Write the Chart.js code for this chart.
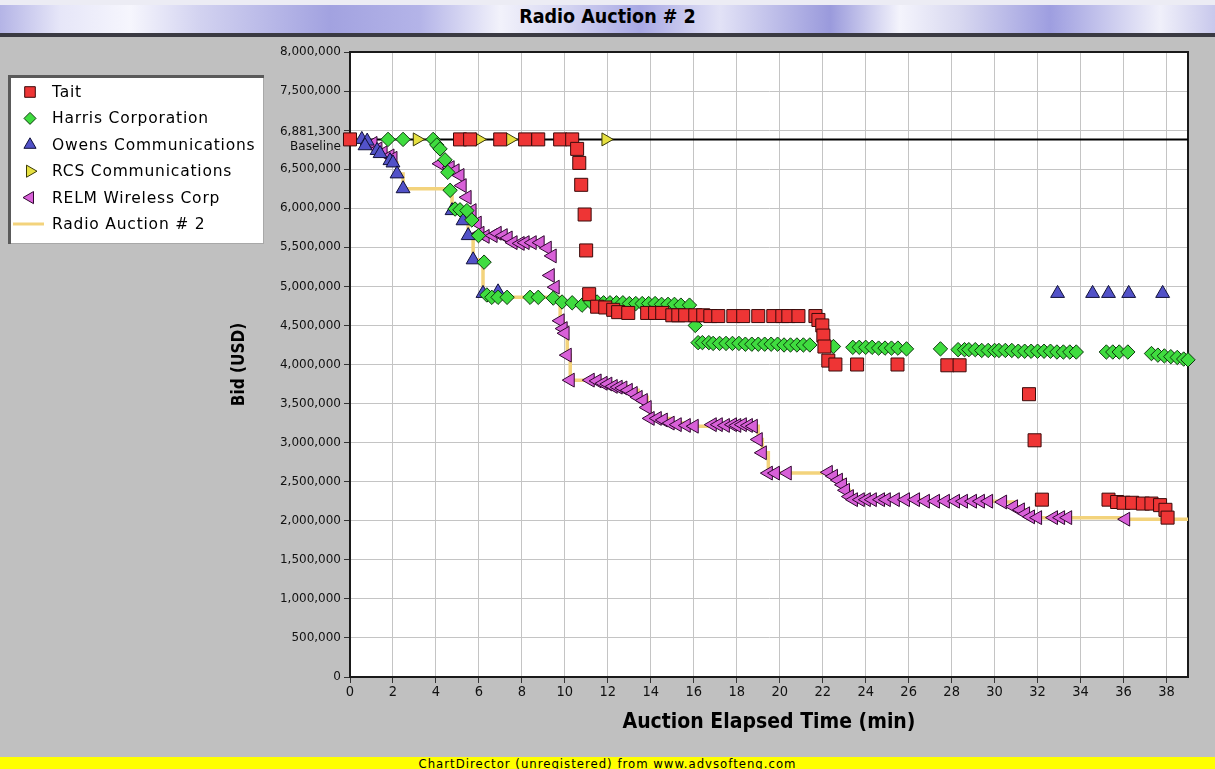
<!DOCTYPE html>
<html>
<head>
<meta charset="utf-8">
<script src="https://cdn.jsdelivr.net/npm/chart.js@4.4.1/dist/chart.umd.min.js"></script>
<style>
  html, body { margin: 0; padding: 0; }
  body { width: 1215px; height: 769px; background: #c0c0c0; position: relative; overflow: hidden; font-family: "DejaVu Sans", sans-serif; }
  #edge { position: absolute; left: 0; top: 0; width: 1215px; height: 5px; background: #ececf4; }
  #wrap { position: absolute; left: 0; top: 0; width: 1215px; height: 757px; }
  #titlebar {
    position: absolute; left: 0; top: 5px; width: 1215px; height: 28px;
    border-bottom: 4px solid #3a3a42;
    background: linear-gradient(90deg, #b4b4e6 0px, #e6e6f8 60px, #f6f6fd 130px, #d2d2f0 200px, #a2a2e0 330px,
      #b4b4e8 420px, #f2f2fb 500px, #d8d8f2 560px, #a8a8e4 640px, #e2e2f6 720px, #9a9adc 830px,
      #f4f4fc 900px, #d8d8f0 960px, #9e9ee0 1050px, #f0f0fa 1160px, #c8c8ec 1215px);
    text-align: center; line-height: 29px;
    font: bold 19.5px "DejaVu Sans Condensed", "DejaVu Sans", sans-serif; color: #000;
  }
  #footer {
    position: absolute; left: 0; top: 757px; width: 1215px; height: 12px; background: #ffff00; overflow: hidden;
    font: 13px "DejaVu Sans Condensed", "DejaVu Sans", sans-serif; letter-spacing: 1px;
    line-height: 13px; text-align: center; color: #000;
  }
</style>
</head>
<body>
<div id="edge"></div>
<div id="wrap"><canvas id="chart" width="1215" height="757"></canvas></div>
<div id="titlebar">Radio Auction # 2</div>
<div id="footer">ChartDirector (unregistered) from www.advsofteng.com</div>
<script>
// auction data (minutes, USD)
const BASELINE = 6881300;
const timeMin = 0;
const timeMax = 39;
const timeTicks = [0, 2, 4, 6, 8, 10, 12, 14, 16, 18, 20, 22, 24, 26, 28, 30, 32, 34, 36, 38];
const bidTicks = [0, 500000, 1000000, 1500000, 2000000, 2500000, 3000000, 3500000, 4000000,
  4500000, 5000000, 5500000, 6000000, 6500000, BASELINE, 7000000, 7500000, 8000000];
const hiddenBidLabels = [7000000];

const taitTime = [0, 5.12, 5.59, 6.99, 8.15, 8.76, 9.78, 10.34, 10.57, 10.67, 10.76, 10.92, 10.99, 11.13,
  11.5, 11.88, 12.25, 12.48, 12.95, 13.83, 14.2, 14.53, 15.0, 15.28, 15.6, 16.07, 16.44, 16.77, 17.14,
  17.84, 18.3, 19.0, 19.7, 20.12, 20.4, 20.87, 21.66, 21.8, 21.98, 22.03, 22.08, 22.26, 22.59, 23.6,
  25.48, 27.8, 28.37, 31.6, 31.86, 32.2, 35.3, 35.7, 36.0, 36.4, 36.9, 37.3, 37.7, 37.95, 38.05];
const taitBid = [BASELINE, BASELINE, BASELINE, BASELINE, BASELINE, BASELINE, BASELINE, BASELINE,
  6760000, 6580000, 6300000, 5920000, 5460000, 4900000,
  4740000, 4730000, 4700000, 4670000, 4660000, 4660000, 4660000, 4660000, 4630000, 4630000, 4630000,
  4630000, 4630000, 4620000, 4620000, 4620000, 4620000, 4620000, 4620000, 4620000, 4620000, 4620000,
  4620000, 4570000, 4500000, 4370000, 4230000, 4050000, 4000000, 4000000, 4000000, 3990000, 3990000,
  3620000, 3030000, 2270000, 2270000, 2240000, 2230000, 2230000, 2220000, 2220000, 2200000, 2140000, 2040000];

const harrisTime = [1.77, 2.47, 3.87, 4.04, 4.19, 4.42, 4.55, 4.66, 4.89, 5.12, 5.44, 5.67, 5.98, 6.24,
  6.37, 6.6, 6.89, 7.31, 8.38, 8.76, 9.46, 9.87, 10.34, 10.8, 11.2, 11.5, 11.8, 12.1, 12.4, 12.7, 13.0,
  13.3, 13.6, 13.9, 14.2, 14.5, 14.8, 15.1, 15.4, 15.8, 16.07, 16.2, 16.4, 16.7, 16.9, 17.2, 17.5, 17.8,
  18.1, 18.4, 18.7, 19.0, 19.3, 19.6, 19.9, 20.2, 20.5, 20.8, 21.1, 21.4, 22.5, 23.4, 23.7, 24.0, 24.3,
  24.6, 24.9, 25.2, 25.5, 25.9, 27.48, 28.3, 28.6, 28.8, 29.1, 29.4, 29.7, 30.0, 30.2, 30.5, 30.8, 31.1,
  31.4, 31.7, 32.0, 32.3, 32.6, 32.9, 33.2, 33.5, 33.8, 35.2, 35.5, 35.8, 36.2, 37.3, 37.6, 37.9, 38.2,
  38.5, 38.8, 39.0];
const harrisBid = [BASELINE, BASELINE, BASELINE, 6810000, 6760000, 6620000, 6460000, 6230000, 5990000,
  5980000, 5970000, 5850000, 5650000, 5310000, 4890000, 4860000, 4860000, 4860000, 4860000, 4860000,
  4850000, 4800000, 4790000, 4760000, 4800000, 4800000, 4790000, 4790000, 4790000, 4790000, 4780000,
  4780000, 4780000, 4780000, 4780000, 4770000, 4770000, 4770000, 4760000, 4760000, 4500000, 4280000,
  4280000, 4280000, 4270000, 4270000, 4270000, 4270000, 4270000, 4260000, 4260000, 4260000, 4260000,
  4260000, 4260000, 4250000, 4250000, 4250000, 4250000, 4250000, 4230000, 4220000, 4220000, 4220000,
  4220000, 4210000, 4210000, 4210000, 4210000, 4200000, 4200000, 4190000, 4190000, 4190000, 4190000,
  4180000, 4180000, 4180000, 4180000, 4180000, 4180000, 4170000, 4170000, 4170000, 4170000, 4170000,
  4170000, 4160000, 4160000, 4160000, 4160000, 4160000, 4160000, 4160000, 4160000, 4140000, 4120000,
  4110000, 4100000, 4090000, 4070000, 4060000];

const owensTime = [0.55, 0.8, 0.7, 1.26, 1.4, 1.86, 2.0, 2.19, 2.47, 4.75, 5.26, 5.5, 5.73, 6.19, 6.89,
  32.93, 34.56, 35.3, 36.24, 37.82];
const owensBid = [BASELINE, 6860000, 6800000, 6740000, 6700000, 6610000, 6580000, 6440000, 6250000,
  5970000, 5840000, 5650000, 5340000, 4910000, 4930000, 4910000, 4910000, 4910000, 4910000, 4910000];

const rcsTime = [3.12, 6.0, 7.45, 11.9];
const rcsBid = [BASELINE, BASELINE, BASELINE, BASELINE];

const relmTime = [1.07, 1.3, 1.54, 1.86, 2.0, 4.19, 4.66, 4.89, 5.12, 5.22, 5.45, 5.68, 5.92, 6.05, 6.29,
  6.66, 6.85, 7.13, 7.36, 7.59, 7.92, 8.15, 8.48, 8.85, 9.18, 9.41, 9.32, 9.55, 9.78, 9.92, 10.01, 10.11,
  10.25, 11.18, 11.5, 11.78, 12.0, 12.25, 12.48, 12.7, 12.95, 13.18, 13.41, 13.65, 13.83, 13.97, 14.3,
  14.58, 14.9, 15.23, 15.65, 16.02, 16.86, 17.14, 17.47, 17.8, 18.0, 18.26, 18.54, 18.77, 19.0, 19.19,
  19.47, 19.8, 20.35, 22.26, 22.5, 22.73, 22.92, 23.06, 23.24, 23.43, 23.75, 24.03, 24.31, 24.69, 24.96,
  25.38, 25.85, 26.32, 26.78, 27.25, 27.71, 28.18, 28.55, 28.97, 29.34, 29.72, 30.37, 30.88, 31.2,
  31.44, 31.67, 32.0, 32.74, 33.07, 33.4, 36.1];
const relmBid = [6830000, 6760000, 6710000, 6670000, 6640000, 6570000, 6520000, 6480000, 6420000,
  6290000, 6140000, 5970000, 5810000, 5680000, 5640000, 5650000, 5680000, 5650000, 5620000, 5560000,
  5550000, 5560000, 5560000, 5560000, 5490000, 5390000, 5140000, 4990000, 4560000, 4460000, 4400000,
  4120000, 3800000, 3800000, 3790000, 3760000, 3750000, 3720000, 3710000, 3700000, 3670000, 3630000,
  3580000, 3540000, 3450000, 3310000, 3310000, 3290000, 3250000, 3230000, 3220000, 3210000, 3230000,
  3230000, 3220000, 3230000, 3220000, 3230000, 3220000, 3210000, 3040000, 2870000, 2610000, 2610000,
  2610000, 2620000, 2570000, 2520000, 2460000, 2390000, 2310000, 2270000, 2270000, 2270000, 2270000,
  2270000, 2270000, 2270000, 2270000, 2270000, 2250000, 2250000, 2250000, 2250000, 2250000, 2250000,
  2250000, 2250000, 2240000, 2180000, 2140000, 2090000, 2050000, 2040000, 2040000, 2040000, 2040000,
  2020000];

// lowest bid so far (the yellow step line)
const lowTime = [0, 0.7, 1.26, 1.4, 1.86, 2.0, 2.19, 2.47, 4.66, 4.75, 5.26, 5.5, 5.73, 6.19, 6.37, 9.78,
  9.92, 10.11, 10.25, 11.78, 12.25, 12.95, 13.41, 13.83, 13.97, 14.9, 15.65, 16.02, 19.0, 19.19, 19.47,
  22.5, 22.73, 22.92, 23.06, 23.24, 23.43, 26.78, 30.37, 30.88, 31.2, 31.44, 31.67, 32.0, 36.1, 39];
const lowBid = [BASELINE, 6800000, 6740000, 6700000, 6610000, 6580000, 6440000, 6250000, 6230000,
  5970000, 5840000, 5650000, 5340000, 4910000, 4860000, 4560000, 4460000, 4120000, 3800000, 3760000,
  3720000, 3670000, 3580000, 3450000, 3310000, 3250000, 3220000, 3210000, 3040000, 2870000, 2610000,
  2570000, 2520000, 2460000, 2390000, 2310000, 2270000, 2250000, 2240000, 2180000, 2140000, 2090000,
  2050000, 2040000, 2020000, 2020000];

const pts = (xs, ys) => xs.map((x, i) => ({ x: x, y: ys[i] }));

const plotBg = {
  id: "plotBg",
  beforeDraw(chart) {
    const { ctx, chartArea: a } = chart;
    ctx.save();
    ctx.fillStyle = "#ffffff";
    ctx.fillRect(a.left, a.top, a.right - a.left, a.bottom - a.top);
    ctx.restore();
  },
  beforeDatasetsDraw(chart) {
    const { ctx, chartArea: a } = chart;
    ctx.save();
    ctx.strokeStyle = "#1a1a1a";
    ctx.lineWidth = 2;
    ctx.strokeRect(a.left, a.top, a.right - a.left, a.bottom - a.top);
    ctx.restore();
  },
};

const boxLegend = {
  id: "boxLegend",
  afterDraw(chart) {
    const ctx = chart.ctx;
    const x0 = 8, y0 = 75, w = 256, h = 169;
    ctx.save();
    ctx.fillStyle = "#ffffff";
    ctx.fillRect(x0, y0, w, h);
    ctx.strokeStyle = "#a8a8a8";
    ctx.lineWidth = 1;
    ctx.strokeRect(x0 + 0.5, y0 + 0.5, w - 1, h - 1);
    ctx.strokeStyle = "#5a5a5a";
    ctx.lineWidth = 3;
    ctx.beginPath();
    ctx.moveTo(x0 + 1.5, y0 + h);
    ctx.lineTo(x0 + 1.5, y0 + 1.5);
    ctx.lineTo(x0 + w, y0 + 1.5);
    ctx.stroke();

    ctx.font = '15.5px "DejaVu Sans", sans-serif';
    ctx.letterSpacing = "0.8px";
    ctx.textBaseline = "middle";
    ctx.textAlign = "left";
    let row = 0;
    chart.data.datasets.forEach((ds) => {
      if (ds.noLegend) return;
      const y = 92 + row * 26.4;
      if (ds.showLine) {
        ctx.strokeStyle = ds.borderColor;
        ctx.lineWidth = 3;
        ctx.beginPath();
        ctx.moveTo(13, y);
        ctx.lineTo(44, y);
        ctx.stroke();
      } else {
        ctx.fillStyle = ds.backgroundColor;
        ctx.strokeStyle = ds.borderColor;
        ctx.lineWidth = 1;
        Chart.helpers.drawPoint(ctx, {
          pointStyle: ds.pointStyle,
          rotation: ds.rotation || 0,
          radius: ds.legendRadius,
          borderWidth: 1,
        }, 30, y);
      }
      ctx.fillStyle = "#000000";
      ctx.fillText(ds.label, 52, y + 1);
      row++;
    });
    ctx.restore();
  },
};

const markerSet = (label, xs, ys, style, fill, edge, radius, legendRadius, rotation) => ({
  label: label,
  data: pts(xs, ys),
  pointStyle: style,
  rotation: rotation || 0,
  backgroundColor: fill,
  borderColor: edge,
  borderWidth: 1,
  pointRadius: radius,
  legendRadius: legendRadius,
  showLine: false,
  clip: false,
});

new Chart(document.getElementById("chart"), {
  type: "scatter",
  data: {
    datasets: [
      markerSet("Tait", taitTime, taitBid, "rect", "#ee3535", "#3a0a0a", 9.2, 7.5),
      markerSet("Harris Corporation", harrisTime, harrisBid, "rectRot", "#3fdc3f", "#0d3a0d", 7.2, 6),
      markerSet("Owens Communications", owensTime, owensBid, "triangle", "#5252c8", "#10103a", 8, 7),
      markerSet("RCS Communications", rcsTime, rcsBid, "triangle", "#e6e040", "#3a3a08", 7.5, 7, 90),
      markerSet("RELM Wireless Corp", relmTime, relmBid, "triangle", "#d860d8", "#300830", 8, 7, -90),
      {
        label: "Radio Auction # 2",
        data: pts(lowTime, lowBid),
        showLine: true,
        stepped: "before",
        borderColor: "#f3d37c",
        backgroundColor: "#f3d37c",
        borderWidth: 3.5,
        pointRadius: 0,
      },
      {
        label: "Baseline",
        noLegend: true,
        data: pts([timeMin, timeMax], [BASELINE, BASELINE]),
        showLine: true,
        borderColor: "#000000",
        borderWidth: 2,
        pointRadius: 0,
      },
    ],
  },
  options: {
    responsive: false,
    animation: false,
    events: [],
    layout: { padding: { top: 52, right: 27, left: 0, bottom: 0 } },
    plugins: {
      legend: { display: false },
      tooltip: { enabled: false },
    },
    scales: {
      x: {
        type: "linear",
        min: timeMin,
        max: timeMax,
        afterBuildTicks: (scale) => {
          scale.ticks = timeTicks.map((v) => ({ value: v }));
        },
        afterFit: (scale) => {
          scale.height = 80;
        },
        ticks: {
          autoSkip: false,
          maxRotation: 0,
          padding: 1,
          color: "#111",
          font: { family: '"DejaVu Sans Condensed", "DejaVu Sans", sans-serif', size: 14.5 },
        },
        grid: { color: "#c4c4c4", lineWidth: 1, tickLength: 6, tickColor: "#333" },
        border: { color: "#1a1a1a", width: 2 },
        title: {
          display: true,
          text: "Auction Elapsed Time (min)",
          color: "#000",
          font: { family: '"DejaVu Sans Condensed", "DejaVu Sans", sans-serif', size: 21, weight: "bold" },
          padding: { top: 0, bottom: 22 },
        },
      },
      y: {
        type: "linear",
        min: 0,
        max: 8000000,
        afterBuildTicks: (scale) => {
          scale.ticks = bidTicks.map((v) => ({ value: v }));
        },
        afterFit: (scale) => {
          scale.width = 350;
        },
        ticks: {
          autoSkip: false,
          padding: 3,
          color: "#111",
          font: { family: '"DejaVu Sans", sans-serif', size: 12 },
          callback: function (value) {
            if (value === BASELINE) {
              return ["6,881,300", "Baseline"];
            }
            if (hiddenBidLabels.includes(value)) {
              return "";
            }
            return value.toLocaleString("en-US");
          },
        },
        grid: { color: "#c4c4c4", lineWidth: 1, tickLength: 6, tickColor: "#333" },
        border: { color: "#1a1a1a", width: 2 },
        title: {
          display: true,
          text: "Bid (USD)",
          color: "#000",
          font: { family: '"DejaVu Sans Condensed", "DejaVu Sans", sans-serif', size: 17, weight: "bold" },
          padding: { top: 229, bottom: 0 },
        },
      },
    },
  },
  plugins: [plotBg, boxLegend],
});
</script>
</body>
</html>
